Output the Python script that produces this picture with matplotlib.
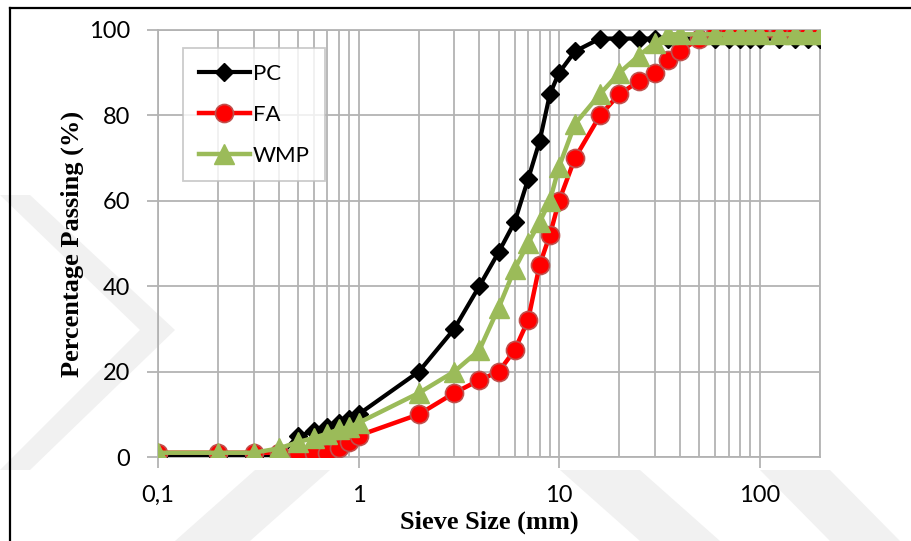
import numpy as np
import matplotlib
matplotlib.use("Agg")
import matplotlib.pyplot as plt
from matplotlib.lines import Line2D

# Sieve sizes (mm) and percentage passing for each material
sieve_mm = [0.1, 0.2, 0.3, 0.4, 0.5, 0.6, 0.7, 0.8, 0.9, 1, 2, 3, 4, 5, 6, 7, 8, 9, 10,
            12, 16, 20, 25, 30, 35, 40, 50, 60, 70, 80, 90, 100, 125, 150, 175, 200]
pc_pass = [0, 0, 0, 0, 5, 6, 7, 8, 9, 10, 20, 30, 40, 48, 55, 65, 74, 85, 90,
           95, 98, 98, 98, 98, 98, 98, 98, 98, 98, 98, 98, 98, 98, 98, 98, 98]
fa_pass = [1, 1, 1, 1, 1, 1, 1, 2, 3.5, 5, 10, 15, 18, 20, 25, 32, 45, 52, 60,
           70, 80, 85, 88, 90, 93, 95, 98, 99, 99, 99, 99, 99, 99, 99, 99, 99]
wmp_pass = [1, 1, 1, 2, 3.5, 4.5, 5.5, 6.5, 7, 8, 15, 20, 25, 35, 44, 50, 55, 60, 68,
            78, 85, 90, 94, 97, 99, 99, 99, 99, 99, 99, 99, 99, 99, 99, 99, 99]

x_ticks = [0.1, 1, 10, 100]
x_ticklabels = ["0,1", "1", "10", "100"]
y_ticks = [0, 20, 40, 60, 80, 100]

W, H = 912, 541
fig = plt.figure(figsize=(W / 100, H / 100), dpi=100)
fig.patch.set_facecolor("white")

# faint chevron watermark behind the chart
wm = "#f1f1f1"
chevrons = [
    [(0, 195), (30, 195), (175, 330), (30, 470), (0, 470), (140, 330)],
    [(175, 541), (250, 541), (330, 470), (255, 470)],
    [(560, 470), (640, 470), (720, 541), (640, 541)],
    [(760, 470), (830, 470), (900, 541), (830, 541)],
]
for pts in chevrons:
    xy = [(px / W, 1 - py / H) for px, py in pts]
    fig.add_artist(plt.Polygon(xy, closed=True, transform=fig.transFigure,
                               facecolor=wm, edgecolor="none", zorder=0))

ax = fig.add_axes([158 / W, 1 - 457 / H, (820 - 158) / W, (457 - 30) / H])
ax.set_facecolor("none")
ax.set_xscale("log")
ax.set_xlim(0.1, 200)
ax.set_ylim(0, 100)

grid_c = "#b3b3b3"
ax.grid(True, which="both", axis="x", color=grid_c, lw=1.3)
ax.grid(True, which="major", axis="y", color=grid_c, lw=1.3)
ax.set_axisbelow(True)
for s in ax.spines.values():
    s.set_color(grid_c)
    s.set_linewidth(1.3)

ax.plot(sieve_mm, pc_pass, color="black", lw=3.0, marker="D", ms=9,
        mfc="black", mec="black", label="PC", zorder=3)
ax.plot(sieve_mm, fa_pass, color="#ff0000", lw=3.2, marker="o", ms=13,
        mfc="#ff0000", mec="#c0504d", mew=1.2, label="FA", zorder=4)
ax.plot(sieve_mm, wmp_pass, color="#9bbb59", lw=3.2, marker="^", ms=14,
        mfc="#9bbb59", mec="#9bbb59", label="WMP", zorder=5)

tick_font = "Lato"
ax.set_xticks(x_ticks)
ax.set_xticklabels(x_ticklabels, fontfamily=tick_font, fontsize=17)
ax.set_yticks(y_ticks)
ax.set_yticklabels([str(v) for v in y_ticks], fontfamily=tick_font, fontsize=17)
ax.xaxis.set_minor_formatter(matplotlib.ticker.NullFormatter())
ax.tick_params(axis="both", which="major", length=8, width=1.3, color=grid_c, pad=12)
ax.tick_params(axis="x", which="minor", length=0)

lab_font = dict(family="Liberation Serif", weight="bold", size=19)
ax.set_xlabel("Sieve Size (mm)", va="center", **lab_font)
ax.xaxis.set_label_coords(0.5, (457 - 522) / 427)
ax.set_ylabel("Percentage Passing (%)", va="center", **lab_font)
ax.yaxis.set_label_coords((72 - 158) / 662, 0.5)

leg = ax.legend(loc="upper left",
                bbox_to_anchor=((183 - 158) / 662, (457 - 48) / 427),
                prop=dict(family=tick_font, size=16), frameon=True, fancybox=False,
                edgecolor="#bfbfbf", handlelength=2.3, handletextpad=0.15,
                labelspacing=0.95, borderpad=0.7, borderaxespad=0)
leg.get_frame().set_linewidth(1.3)

# outer border lines along top and left
fig.add_artist(Line2D([10 / W, 1], [1 - 8 / H, 1 - 8 / H], color="black", lw=1.6,
                      transform=fig.transFigure))
fig.add_artist(Line2D([10 / W, 10 / W], [0, 1 - 8 / H], color="black", lw=1.6,
                      transform=fig.transFigure))

fig.savefig("out.png", dpi=100)
